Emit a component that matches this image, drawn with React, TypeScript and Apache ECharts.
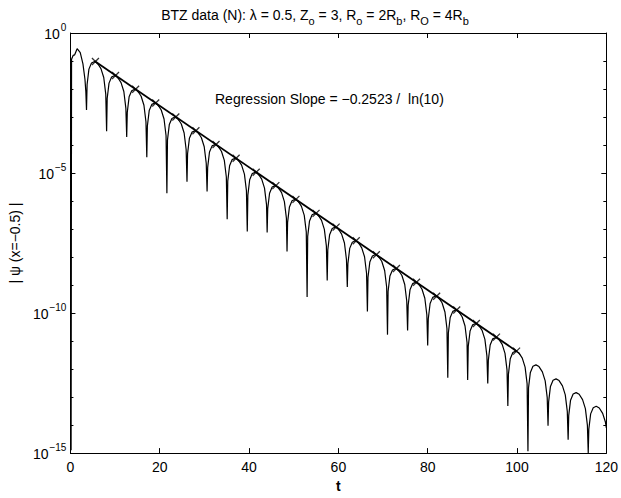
import React, { useEffect, useRef } from "react";
import * as echarts from "echarts";

// x axis (t) and y axis (log10 of |psi|) ticks
const xTicks = [0, 20, 40, 60, 80, 100, 120];
const yTickExponents = [0, -5, -10, -15];

// |psi(x=-0.5)| as [t, log10 value], one lobe per line
const curve: [number, number][] = [
  [0.15, -14.9], [0.25, -0.94], [0.6, -0.8], [0.95, -0.78], [1.5, -0.56], [2.2, -0.7], [2.8, -1.1], [3.25, -1.65], [3.45, -2.1],
  [3.6, -2.75], [3.73, -1.84], [4.14, -1.29], [4.72, -1.07], [5.39, -1.02], [6.07, -1.08], [6.83, -1.27], [7.46, -1.59], [7.91, -2.18],
  [8.1, -3.51], [8.23, -2.34], [8.64, -1.79], [9.22, -1.57], [9.89, -1.52], [10.57, -1.58], [11.33, -1.77], [11.96, -2.09], [12.41, -2.68],
  [12.6, -3.71], [12.73, -2.83], [13.14, -2.28], [13.72, -2.06], [14.39, -2.01], [15.07, -2.07], [15.83, -2.26], [16.46, -2.58], [16.91, -3.17],
  [17.1, -4.44], [17.23, -3.32], [17.64, -2.77], [18.22, -2.55], [18.89, -2.5], [19.57, -2.56], [20.33, -2.75], [20.96, -3.07], [21.41, -3.66],
  [21.6, -5.72], [21.73, -3.82], [22.14, -3.27], [22.72, -3.05], [23.39, -3.0], [24.07, -3.06], [24.83, -3.25], [25.46, -3.57], [25.91, -4.16],
  [26.1, -5.31], [26.23, -4.31], [26.64, -3.76], [27.22, -3.54], [27.89, -3.49], [28.57, -3.55], [29.33, -3.74], [29.96, -4.06], [30.41, -4.65],
  [30.6, -5.66], [30.73, -4.8], [31.14, -4.25], [31.72, -4.03], [32.39, -3.98], [33.07, -4.04], [33.83, -4.23], [34.46, -4.55], [34.91, -5.14],
  [35.1, -6.65], [35.23, -5.29], [35.64, -4.74], [36.22, -4.52], [36.89, -4.47], [37.57, -4.53], [38.33, -4.72], [38.96, -5.04], [39.41, -5.63],
  [39.6, -7.09], [39.73, -5.79], [40.14, -5.24], [40.72, -5.02], [41.39, -4.97], [42.07, -5.03], [42.83, -5.22], [43.46, -5.54], [43.91, -6.13],
  [44.05, -7.12], [44.18, -6.27], [44.59, -5.72], [45.17, -5.5], [45.84, -5.45], [46.52, -5.51], [47.28, -5.7], [47.91, -6.02], [48.36, -6.61],
  [48.5, -7.8], [48.63, -6.76], [49.04, -6.21], [49.62, -5.99], [50.29, -5.94], [50.97, -6.0], [51.73, -6.19], [52.36, -6.51], [52.81, -7.1],
  [53.0, -9.43], [53.13, -7.26], [53.54, -6.71], [54.12, -6.49], [54.79, -6.44], [55.47, -6.5], [56.23, -6.69], [56.86, -7.01], [57.31, -7.6],
  [57.5, -8.84], [57.63, -7.75], [58.04, -7.2], [58.62, -6.98], [59.29, -6.93], [59.97, -6.99], [60.73, -7.18], [61.36, -7.5], [61.81, -8.09],
  [62.0, -9.07], [62.13, -8.24], [62.54, -7.69], [63.12, -7.47], [63.79, -7.42], [64.47, -7.48], [65.23, -7.67], [65.86, -7.99], [66.31, -8.58],
  [66.5, -9.94], [66.63, -8.73], [67.04, -8.18], [67.62, -7.96], [68.29, -7.91], [68.97, -7.97], [69.73, -8.16], [70.36, -8.48], [70.81, -9.07],
  [71.0, -10.77], [71.13, -9.23], [71.54, -8.68], [72.12, -8.46], [72.79, -8.41], [73.47, -8.47], [74.23, -8.66], [74.86, -8.98], [75.31, -9.57],
  [75.5, -10.62], [75.63, -9.72], [76.04, -9.17], [76.62, -8.95], [77.29, -8.9], [77.97, -8.96], [78.73, -9.15], [79.36, -9.47], [79.81, -10.06],
  [80.0, -11.16], [80.13, -10.21], [80.54, -9.66], [81.12, -9.44], [81.79, -9.39], [82.47, -9.45], [83.23, -9.64], [83.86, -9.96], [84.31, -10.55],
  [84.5, -12.31], [84.63, -10.71], [85.04, -10.16], [85.62, -9.94], [86.29, -9.89], [86.97, -9.95], [87.73, -10.14], [88.36, -10.46], [88.81, -11.05],
  [88.95, -12.39], [89.08, -11.19], [89.49, -10.64], [90.07, -10.42], [90.74, -10.37], [91.42, -10.43], [92.18, -10.62], [92.81, -10.94], [93.26, -11.53],
  [93.45, -12.51], [93.58, -11.69], [93.99, -11.14], [94.57, -10.92], [95.24, -10.87], [95.92, -10.93], [96.68, -11.12], [97.31, -11.44], [97.76, -12.03],
  [97.95, -13.32], [98.08, -12.18], [98.49, -11.63], [99.07, -11.41], [99.74, -11.36], [100.42, -11.42], [101.18, -11.61], [101.81, -11.93], [102.26, -12.52],
  [102.45, -14.93], [102.58, -12.67], [102.99, -12.12], [103.57, -11.9], [104.24, -11.85], [104.92, -11.91], [105.68, -12.1], [106.31, -12.42], [106.76, -13.01],
  [106.95, -14.02], [107.08, -13.17], [107.49, -12.62], [108.07, -12.4], [108.74, -12.35], [109.42, -12.41], [110.18, -12.6], [110.81, -12.92], [111.26, -13.51],
  [111.45, -14.52], [111.58, -13.66], [111.99, -13.11], [112.57, -12.89], [113.24, -12.84], [113.92, -12.9], [114.68, -13.09], [115.31, -13.41], [115.76, -14.0],
  [115.95, -15.0], [116.08, -14.15], [116.49, -13.6], [117.07, -13.38], [117.74, -13.33], [118.42, -13.39], [119.18, -13.58], [119.81, -13.9], [120.0, -14.1],
];

// regression line end points (t, log10)
const regressionT = [5.4, 100.0];
const regressionLog = [-1.0, -11.37];

// "x" markers at the fitted peaks (t, log10)
const markerT = [5.6, 10.1, 14.6, 19.1, 23.6, 28.1, 32.6, 37.1, 41.6, 46.0, 50.5, 55.0, 59.5, 64.0, 68.5, 73.0, 77.5, 82.0, 86.5, 90.9, 95.4, 99.9];
const markerLog = [-1.02, -1.52, -2.01, -2.5, -3.0, -3.49, -3.98, -4.47, -4.97, -5.45, -5.94, -6.44, -6.93, -7.42, -7.92, -8.41, -8.9, -9.4, -9.89, -10.37, -10.86, -11.36];

const FONT = "'Liberation Sans', Arial, Helvetica, sans-serif";

export default function App() {
  const ref = useRef<HTMLDivElement>(null);

  useEffect(() => {
    if (!ref.current) return;
    const chart = echarts.init(ref.current, undefined, { renderer: "svg" });

    const yLabel = (v: number) => (v === 0 ? "{b|10}{s|0}" : `{b|10}{s|\u2212${-v}}`);

    const axisCommon = {
      axisLine: { show: true, onZero: false, lineStyle: { color: "#000", width: 1 } },
      splitLine: { show: false },
    };

    const option: any = {
      animation: false,
      backgroundColor: "#fff",
      textStyle: { fontFamily: FONT },
      grid: { left: 62, right: 13, top: 33, bottom: 35, containLabel: false },
      xAxis: [
        {
          ...axisCommon,
          type: "value",
          min: xTicks[0],
          max: xTicks[xTicks.length - 1],
          interval: 20,
          position: "bottom",
          axisTick: { show: true, inside: true, length: 5, lineStyle: { color: "#000" } },
          axisLabel: { color: "#000", fontSize: 14, margin: 7, fontFamily: FONT },
          name: "t",
          nameLocation: "middle",
          nameGap: 23,
          nameTextStyle: { color: "#000", fontSize: 14, fontWeight: "bold", fontFamily: FONT },
        },
        {
          ...axisCommon,
          type: "value",
          min: xTicks[0],
          max: xTicks[xTicks.length - 1],
          interval: 20,
          position: "top",
          axisTick: { show: true, inside: true, length: 5, lineStyle: { color: "#000" } },
          axisLabel: { show: false },
        },
      ],
      yAxis: [
        {
          ...axisCommon,
          type: "value",
          min: yTickExponents[yTickExponents.length - 1],
          max: yTickExponents[0],
          interval: 5,
          position: "left",
          axisTick: { show: true, inside: true, length: 5, lineStyle: { color: "#000" } },
          minorTick: { show: true, splitNumber: 5, length: 3, lineStyle: { color: "#000" } },
          axisLabel: {
            color: "#000",
            margin: 4,
            formatter: yLabel,
            rich: {
              b: { fontSize: 14, lineHeight: 15, verticalAlign: "bottom", fontFamily: FONT, color: "#000" },
              s: { fontSize: 10, lineHeight: 11, verticalAlign: "bottom", padding: [0, 0, 8, 1], fontFamily: FONT, color: "#000" },
            },
          },
          name: "| \u03C8 (x=\u22120.5) |",
          nameLocation: "middle",
          nameGap: 41,
          nameRotate: 90,
          nameTextStyle: { color: "#000", fontSize: 14, fontFamily: FONT },
        },
        {
          ...axisCommon,
          type: "value",
          min: yTickExponents[yTickExponents.length - 1],
          max: yTickExponents[0],
          interval: 5,
          position: "right",
          axisTick: { show: true, inside: true, length: 5, lineStyle: { color: "#000" } },
          minorTick: { show: true, splitNumber: 5, length: 3, lineStyle: { color: "#000" } },
          axisLabel: { show: false },
        },
      ],
      graphic: [
        {
          type: "text",
          x: 315,
          y: 8,
          style: {
            text:
              "{n|BTZ data (N): \u03BB = 0.5, Z}{u|o}{n| = 3, R}{u|o}{n| = 2R}{u|b}{n|, R}{u|O}{n| = 4R}{u|b}",
            align: "center",
            verticalAlign: "top",
            fill: "#000",
            rich: {
              n: { fontSize: 14, lineHeight: 16, verticalAlign: "top", fontFamily: FONT, fill: "#000" },
              u: { fontSize: 11, lineHeight: 11, verticalAlign: "top", padding: [7, 0, 0, 0], fontFamily: FONT, fill: "#000" },
            },
          },
        },
        {
          type: "text",
          x: 215,
          y: 92,
          style: {
            text: "Regression Slope = \u22120.2523 /  ln(10)",
            fontSize: 14,
            fontFamily: FONT,
            fill: "#000",
            verticalAlign: "top",
          },
        },
      ],
      series: [
        {
          type: "line",
          name: "psi",
          xAxisIndex: 0,
          yAxisIndex: 0,
          data: curve,
          showSymbol: false,
          symbol: "none",
          lineStyle: { color: "#000", width: 1.2 },
        },
        {
          type: "line",
          name: "regression",
          xAxisIndex: 0,
          yAxisIndex: 0,
          data: regressionT.map((t, i) => [t, regressionLog[i]]),
          showSymbol: false,
          symbol: "none",
          lineStyle: { color: "#000", width: 1.8 },
        },
        {
          type: "scatter",
          name: "peaks",
          xAxisIndex: 0,
          yAxisIndex: 0,
          data: markerT.map((t, i) => [t, markerLog[i]]),
          symbol: "path://M0,0L10,10M10,0L0,10",
          symbolSize: 7,
          itemStyle: { color: "rgba(0,0,0,0)", borderColor: "#000", borderWidth: 1.3 },
        },
      ],
    };

    chart.setOption(option);
    return () => chart.dispose();
  }, []);

  return <div ref={ref} style={{ width: 621, height: 498, position: "absolute", left: 0, top: 0 }} />;
}
